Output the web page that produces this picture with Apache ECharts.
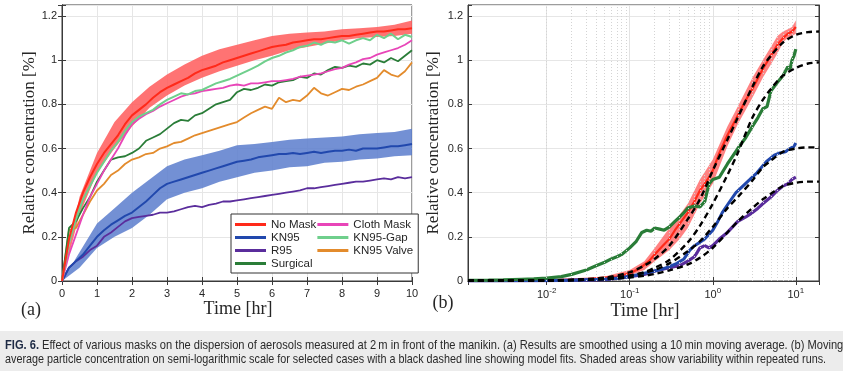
<!DOCTYPE html>
<html><head><meta charset="utf-8">
<script src="https://cdn.jsdelivr.net/npm/echarts@6/dist/echarts.min.js"></script>
<style>html,body{margin:0;padding:0;background:#fff}#c{width:843px;height:376px}</style>
</head><body><div id="c"></div>
<script>
// ---------- Panel (a): linear time, 10-min moving average ----------
const T = [0,0.2,0.4,0.6,0.8,1.0,1.2,1.4,1.6,1.8,2.0,2.2,2.4,2.6,2.8,3.0,3.2,3.4,3.6,3.8,4.0,4.2,4.4,4.6,4.8,5.0,5.2,5.4,5.6,5.8,6.0,6.2,6.4,6.6,6.8,7.0,7.2,7.4,7.6,7.8,8.0,8.2,8.4,8.6,8.8,9.0,9.2,9.4,9.6,9.8,10];
const noMask = [0,0.19,0.31,0.40,0.47,0.53,0.58,0.62,0.66,0.71,0.75,0.775,0.80,0.83,0.855,0.875,0.89,0.905,0.92,0.94,0.955,0.965,0.975,0.99,1.0,1.01,1.02,1.03,1.04,1.05,1.06,1.065,1.07,1.08,1.085,1.09,1.095,1.095,1.10,1.105,1.11,1.11,1.115,1.12,1.125,1.13,1.13,1.135,1.14,1.14,1.145];
const kn95 = [0,0.06,0.09,0.12,0.16,0.20,0.23,0.255,0.275,0.295,0.31,0.335,0.36,0.39,0.42,0.44,0.45,0.46,0.47,0.48,0.49,0.50,0.51,0.52,0.53,0.54,0.545,0.55,0.56,0.565,0.57,0.575,0.575,0.58,0.575,0.58,0.585,0.58,0.585,0.59,0.59,0.595,0.59,0.60,0.60,0.60,0.605,0.61,0.61,0.615,0.62];
const r95 = [0,0.06,0.09,0.11,0.14,0.16,0.20,0.22,0.245,0.27,0.285,0.29,0.295,0.30,0.31,0.31,0.315,0.325,0.335,0.34,0.335,0.345,0.35,0.36,0.36,0.365,0.37,0.375,0.38,0.385,0.39,0.395,0.40,0.405,0.41,0.42,0.42,0.425,0.43,0.435,0.44,0.445,0.45,0.45,0.455,0.46,0.465,0.46,0.47,0.465,0.47];
const surgical = [0,0.24,0.27,0.33,0.38,0.45,0.50,0.55,0.56,0.565,0.58,0.60,0.635,0.65,0.665,0.69,0.715,0.73,0.725,0.75,0.76,0.78,0.80,0.81,0.82,0.855,0.87,0.865,0.875,0.89,0.885,0.90,0.905,0.91,0.925,0.92,0.94,0.935,0.955,0.97,0.965,0.975,0.97,0.985,0.98,1.0,0.99,1.01,0.995,1.02,1.045];
const clothMask = [0,0.12,0.21,0.30,0.38,0.44,0.50,0.55,0.60,0.66,0.71,0.735,0.755,0.77,0.79,0.805,0.82,0.835,0.845,0.85,0.86,0.865,0.87,0.875,0.885,0.89,0.885,0.895,0.895,0.90,0.905,0.905,0.91,0.915,0.925,0.93,0.935,0.94,0.95,0.96,0.965,0.98,0.99,1.005,1.01,1.025,1.035,1.045,1.055,1.07,1.09];
const kn95Gap = [0,0.17,0.28,0.37,0.43,0.49,0.54,0.59,0.63,0.68,0.72,0.745,0.76,0.775,0.80,0.82,0.835,0.85,0.845,0.86,0.865,0.88,0.895,0.905,0.915,0.93,0.945,0.96,0.975,0.995,1.01,1.02,1.035,1.045,1.06,1.065,1.08,1.07,1.085,1.08,1.09,1.075,1.09,1.10,1.09,1.115,1.10,1.12,1.095,1.115,1.105];
const kn95Valve = [0,0.23,0.24,0.30,0.36,0.41,0.44,0.48,0.50,0.53,0.55,0.56,0.575,0.58,0.60,0.61,0.625,0.63,0.645,0.66,0.67,0.68,0.69,0.70,0.71,0.72,0.74,0.76,0.775,0.79,0.78,0.83,0.81,0.82,0.815,0.84,0.875,0.85,0.84,0.855,0.87,0.865,0.88,0.89,0.905,0.92,0.955,0.935,0.925,0.95,0.99];
// variability bands (panel a)
const BT = [0,0.5,1,1.5,2,2.5,3,3.5,4,4.5,5,5.5,6,6.5,7,7.5,8,8.5,9,9.5,10];
const noMaskHi = [0,0.38,0.58,0.72,0.81,0.88,0.935,0.98,1.02,1.05,1.07,1.09,1.11,1.12,1.125,1.13,1.14,1.145,1.15,1.16,1.18];
const noMaskLo = [0,0.30,0.49,0.60,0.70,0.785,0.84,0.885,0.92,0.95,0.975,1.0,1.02,1.045,1.06,1.075,1.09,1.1,1.105,1.11,1.12];
const kn95Hi = [0,0.13,0.26,0.33,0.40,0.46,0.52,0.55,0.57,0.59,0.615,0.62,0.63,0.64,0.645,0.65,0.655,0.665,0.67,0.675,0.69];
const kn95Lo = [0,0.06,0.15,0.20,0.24,0.30,0.37,0.40,0.42,0.45,0.47,0.49,0.50,0.515,0.52,0.535,0.54,0.55,0.555,0.565,0.57];

// ---------- Panel (b): semi-log time ----------
const LR_T = [0.00113,0.002,0.005,0.01,0.02,0.03,0.05,0.07,0.1,0.13,0.17,0.2,0.25,0.3,0.35,0.4,0.5,0.6,0.7,0.8,0.9,1.0,1.2,1.5,2,2.5,3,4,5,6,7,8,9,9.5,10];
const LR_Y = [0.002,0.002,0.003,0.004,0.006,0.008,0.015,0.02,0.035,0.055,0.09,0.12,0.16,0.19,0.23,0.26,0.31,0.36,0.41,0.44,0.47,0.50,0.58,0.66,0.75,0.82,0.87,0.96,1.02,1.07,1.1,1.12,1.13,1.14,1.15];
const LRB_T = [0.00113,0.01,0.05,0.1,0.15,0.2,0.3,0.4,0.5,0.7,1,1.5,2,3,4,5,6,7,8,9,10];
const LRB_HI = [0.004,0.006,0.02,0.05,0.09,0.15,0.24,0.30,0.35,0.46,0.55,0.70,0.79,0.92,1.0,1.06,1.11,1.13,1.14,1.15,1.18];
const LRB_LO = [0.0,0.002,0.01,0.025,0.05,0.09,0.14,0.19,0.24,0.35,0.44,0.61,0.71,0.83,0.92,0.98,1.03,1.08,1.1,1.11,1.12];
const LS_T = [0.00113,0.002,0.003,0.005,0.007,0.01,0.015,0.02,0.03,0.04,0.05,0.06,0.07,0.08,0.1,0.12,0.14,0.16,0.18,0.2,0.23,0.26,0.3,0.35,0.4,0.45,0.5,0.6,0.7,0.8,0.9,1.0,1.2,1.5,2,2.5,3,3.5,4,4.5,5,6,7,8,8.5,9,9.5,10];
const LS_Y = [0.003,0.004,0.005,0.008,0.01,0.013,0.02,0.03,0.05,0.07,0.085,0.1,0.11,0.12,0.15,0.18,0.22,0.23,0.225,0.24,0.235,0.23,0.245,0.27,0.29,0.31,0.33,0.34,0.335,0.36,0.44,0.46,0.47,0.53,0.6,0.65,0.7,0.74,0.78,0.79,0.86,0.9,0.93,0.97,0.96,1.0,1.02,1.05];
const LK_T = [0.00113,0.01,0.02,0.05,0.07,0.1,0.15,0.2,0.25,0.3,0.37,0.45,0.53,0.6,0.7,0.8,1.0,1.15,1.3,1.6,1.9,2.3,2.8,3.4,4.4,5.5,6.4,7.5,8.5,9.5,10];
const LK_Y = [0.001,0.002,0.003,0.008,0.012,0.02,0.035,0.045,0.055,0.065,0.08,0.1,0.14,0.16,0.175,0.19,0.23,0.27,0.31,0.36,0.40,0.43,0.46,0.49,0.54,0.57,0.58,0.585,0.6,0.61,0.625];
const LP_T = [0.00113,0.01,0.05,0.1,0.15,0.2,0.3,0.4,0.5,0.6,0.65,0.7,0.8,0.9,1.0,1.2,1.5,2,2.5,3,3.5,4,5,6,7,8,9,10];
const LP_Y = [0.001,0.002,0.006,0.02,0.03,0.045,0.06,0.07,0.09,0.11,0.13,0.15,0.16,0.15,0.16,0.19,0.22,0.27,0.29,0.31,0.33,0.35,0.38,0.41,0.43,0.44,0.46,0.47];
// model fits (black dashed)
const FIT_T = [0.00113,0.01,0.05,0.1,0.15,0.2,0.3,0.5,0.7,1,1.5,2,3,4,5,7,10,14,19];
const fitNoMask = [0.002,0.003,0.015,0.04,0.07,0.1,0.16,0.28,0.37,0.5,0.64,0.74,0.88,0.97,1.02,1.08,1.115,1.127,1.13];
const fitSurgical = [0.001,0.002,0.01,0.025,0.04,0.06,0.095,0.175,0.25,0.35,0.48,0.58,0.74,0.82,0.87,0.93,0.965,0.985,0.99];
const fitKN95 = [0.001,0.002,0.01,0.025,0.037,0.05,0.08,0.135,0.18,0.245,0.33,0.38,0.455,0.515,0.545,0.585,0.6,0.605,0.605];
const fitR95 = [0.001,0.002,0.008,0.016,0.024,0.032,0.048,0.075,0.105,0.15,0.22,0.27,0.33,0.37,0.395,0.43,0.445,0.45,0.45];
// axis ticks
const Y_TICKS = [0,0.2,0.4,0.6,0.8,1,1.2];
const LOG_MINOR = [0.002,0.003,0.004,0.005,0.006,0.007,0.008,0.009,0.02,0.03,0.04,0.05,0.06,0.07,0.08,0.09,0.2,0.3,0.4,0.5,0.6,0.7,0.8,0.9,2,3,4,5,6,7,8,9];

const COL = {
  'No Mask':'#ff2a1a', 'KN95':'#2148ad', 'R95':'#5a2d9c', 'Surgical':'#2a7d38',
  'Cloth Mask':'#e845b8', 'KN95-Gap':'#6fcf8c', 'KN95 Valve':'#e38b2c'
};

function pairs(xs, ys){ return xs.map((x,i)=>[x, ys[i]]); }
function line(name, xs, ys, xi, yi, w, z){
  return {type:'line', name, xAxisIndex:xi, yAxisIndex:yi, data:pairs(xs,ys), showSymbol:false, symbol:'none',
    lineStyle:{color:COL[name], width:w}, itemStyle:{color:COL[name]}, z:z||3, animation:false, silent:true};
}
function band(xs, lo, hi, xi, yi, fill){
  return {type:'custom', xAxisIndex:xi, yAxisIndex:yi, data:[[xs[0], lo[0]]], z:2, silent:true, clip:true, animation:false,
    renderItem:function(params, api){
      const pts=[];
      for(let i=0;i<xs.length;i++) pts.push(api.coord([xs[i], hi[i]]));
      for(let i=xs.length-1;i>=0;i--) pts.push(api.coord([xs[i], lo[i]]));
      return {type:'polygon', shape:{points:pts}, style:{fill:fill, stroke:null}};
    }};
}
function fit(ys){
  return {type:'line', name:'fit', xAxisIndex:2, yAxisIndex:2, data:pairs(FIT_T, ys), showSymbol:false, symbol:'none', smooth:0.3,
    lineStyle:{color:'#000', width:2.4, type:[6,4]}, z:5, animation:false, silent:true};
}

const LAB = {color:'#262626', fontSize:11, fontFamily:'Liberation Sans, Arial, sans-serif'};
const yLabelFmt = v => { const k=v*5; return Math.abs(k-Math.round(k))<1e-6 ? String(+v.toFixed(1)) : ''; };

const gridBox = {show:true, borderColor:'#3a3a3a', borderWidth:1, backgroundColor:'#fff'};
const CAP_FONT = '13px "Liberation Sans", Arial, sans-serif';
const option = {
  animation:false,
  grid:[
    Object.assign({left:62, top:5, width:350, height:276}, gridBox),
    Object.assign({left:468, top:5, width:351, height:276}, gridBox)
  ],
  xAxis:[
    {type:'value', gridIndex:0, min:0, max:10, interval:1, position:'bottom',
      axisLine:{show:true, lineStyle:{color:'#3a3a3a'}}, axisTick:{inside:true, length:4, lineStyle:{color:'#3a3a3a'}},
      axisLabel:Object.assign({margin:7}, LAB), splitLine:{show:true, lineStyle:{color:'#e6e6e6'}}},
    {type:'value', gridIndex:0, min:0, max:10, interval:1, position:'top',
      axisLine:{show:true, lineStyle:{color:'#3a3a3a'}}, axisTick:{inside:true, length:4, lineStyle:{color:'#3a3a3a'}},
      axisLabel:{show:false}, splitLine:{show:false}},
    {type:'log', logBase:10, gridIndex:1, min:0.00113, max:19, position:'bottom',
      axisLine:{show:true, lineStyle:{color:'#3a3a3a'}}, axisTick:{inside:true, length:4, lineStyle:{color:'#3a3a3a'}},
      axisLabel:Object.assign({margin:6, formatter:v=>{const e=Math.log10(v); return Math.abs(e-Math.round(e))<1e-6 ? '10{s|'+Math.round(e)+'}' : '';},
        rich:{s:{fontSize:8, color:'#262626', fontFamily:'Liberation Sans, Arial, sans-serif', verticalAlign:'bottom', padding:[0,0,7,0]}}}, LAB),
      splitLine:{show:true, lineStyle:{color:'#e3e3e3'}}},
    {type:'log', logBase:10, gridIndex:1, min:0.00113, max:19, position:'top',
      axisLine:{show:true, lineStyle:{color:'#3a3a3a'}}, axisTick:{inside:true, length:4, lineStyle:{color:'#3a3a3a'}},
      axisLabel:{show:false}, splitLine:{show:false}}
  ],
  yAxis:[
    {type:'value', gridIndex:0, min:0, max:1.25, interval:0.2, position:'left',
      axisLine:{show:true, lineStyle:{color:'#3a3a3a'}}, axisTick:{inside:true, length:4, lineStyle:{color:'#3a3a3a'}},
      axisLabel:Object.assign({margin:5, formatter:yLabelFmt}, LAB), splitLine:{show:true, lineStyle:{color:'#e6e6e6'}}},
    {type:'value', gridIndex:0, min:0, max:1.25, interval:0.2, position:'right',
      axisLine:{show:true, lineStyle:{color:'#3a3a3a'}}, axisTick:{inside:true, length:4, lineStyle:{color:'#3a3a3a'}},
      axisLabel:{show:false}, splitLine:{show:false}},
    {type:'value', gridIndex:1, min:0, max:1.25, interval:0.2, position:'left',
      axisLine:{show:true, lineStyle:{color:'#3a3a3a'}}, axisTick:{inside:true, length:4, lineStyle:{color:'#3a3a3a'}},
      axisLabel:Object.assign({margin:5, formatter:yLabelFmt}, LAB), splitLine:{show:true, lineStyle:{color:'#e6e6e6'}}},
    {type:'value', gridIndex:1, min:0, max:1.25, interval:0.2, position:'right',
      axisLine:{show:true, lineStyle:{color:'#3a3a3a'}}, axisTick:{inside:true, length:4, lineStyle:{color:'#3a3a3a'}},
      axisLabel:{show:false}, splitLine:{show:false}}
  ],
  legend:{
    orient:'vertical', left:231, top:214, height:52,
    data:['No Mask','KN95','R95','Surgical','Cloth Mask','KN95-Gap','KN95 Valve'].map(n=>({name:n, icon:'rect', itemStyle:{color:COL[n]}})),
    itemWidth:31, itemHeight:3, itemGap:0, padding:[4,4,3,4],
    backgroundColor:'#fff', borderColor:'#333', borderWidth:1, borderRadius:0,
    textStyle:{color:'#262626', fontSize:11.5, lineHeight:13, fontFamily:'Liberation Sans, Arial, sans-serif', padding:[0,1,0,0]},
    selectedMode:false, z:10
  },
  series:[
    // panel (a)
    band(BT, noMaskLo, noMaskHi, 0, 0, 'rgba(255,90,90,0.85)'),
    band(BT, kn95Lo, kn95Hi, 0, 0, 'rgba(90,125,205,0.85)'),
    line('R95', T, r95, 0, 0, 1.8),
    line('KN95', T, kn95, 0, 0, 2),
    line('KN95 Valve', T, kn95Valve, 0, 0, 1.8),
    line('Surgical', T, surgical, 0, 0, 1.8),
    line('Cloth Mask', T, clothMask, 0, 0, 1.8),
    line('KN95-Gap', T, kn95Gap, 0, 0, 2),
    line('No Mask', T, noMask, 0, 0, 2),
    // panel (b)
    band(LRB_T, LRB_LO, LRB_HI, 2, 2, 'rgba(255,100,100,0.8)'),
    Object.assign(line('No Mask', LR_T, LR_Y, 2, 2, 2.2), {
      markLine:{silent:true, symbol:'none', label:{show:false}, animation:false,
        lineStyle:{color:'#d4d4d4', type:[1,2], width:1}, data:LOG_MINOR.map(v=>({xAxis:v}))}}),
    line('R95', LP_T, LP_Y, 2, 2, 3.2),
    line('KN95', LK_T, LK_Y, 2, 2, 3),
    line('Surgical', LS_T, LS_Y, 2, 2, 3.2),
    fit(fitNoMask), fit(fitSurgical), fit(fitKN95), fit(fitR95)
  ],
  graphic:[
    {type:'text', x:30, y:143, rotation:Math.PI/2, style:{text:'Relative concentration [%]', font:'17px "Liberation Serif", serif', fill:'#262626', textAlign:'center', textVerticalAlign:'middle'}},
    {type:'text', x:434, y:143, rotation:Math.PI/2, style:{text:'Relative concentration [%]', font:'17px "Liberation Serif", serif', fill:'#262626', textAlign:'center', textVerticalAlign:'middle'}},
    {type:'text', x:238, y:309, style:{text:'Time [hr]', font:'18px "Liberation Serif", serif', fill:'#262626', textAlign:'center', textVerticalAlign:'middle'}},
    {type:'text', x:645, y:311, style:{text:'Time [hr]', font:'18px "Liberation Serif", serif', fill:'#262626', textAlign:'center', textVerticalAlign:'middle'}},
    {type:'text', x:31, y:310, style:{text:'(a)', font:'18px "Liberation Serif", serif', fill:'#262626', textAlign:'center', textVerticalAlign:'middle'}},
    {type:'text', x:443, y:303, style:{text:'(b)', font:'18px "Liberation Serif", serif', fill:'#262626', textAlign:'center', textVerticalAlign:'middle'}},
    {type:'rect', shape:{x:0, y:331, width:843, height:40}, style:{fill:'#ececec'}, z:-1},
    {type:'text', x:5, y:345, scaleX:0.855, style:{rich:{b:{font:'bold '+CAP_FONT, fill:'#1d2a44'}, n:{font:CAP_FONT, fill:'#2a2a2a'}},
      text:'{b|FIG. 6.}{n| Effect of various masks on the dispersion of aerosols measured at 2\u2009m in front of the manikin. (a) Results are smoothed using a 10\u2009min moving average. (b) Moving}', textVerticalAlign:'middle'}},
    {type:'text', x:5, y:359, scaleX:0.83, style:{rich:{n:{font:CAP_FONT, fill:'#2a2a2a'}},
      text:'{n|average particle concentration on semi-logarithmic scale for selected cases with a black dashed line showing model fits. Shaded areas show variability within repeated runs.}', textVerticalAlign:'middle'}}
  ]
};
const chart = echarts.init(document.getElementById('c'), null, {renderer:'canvas'});
chart.setOption(option);
</script>
</body></html>
